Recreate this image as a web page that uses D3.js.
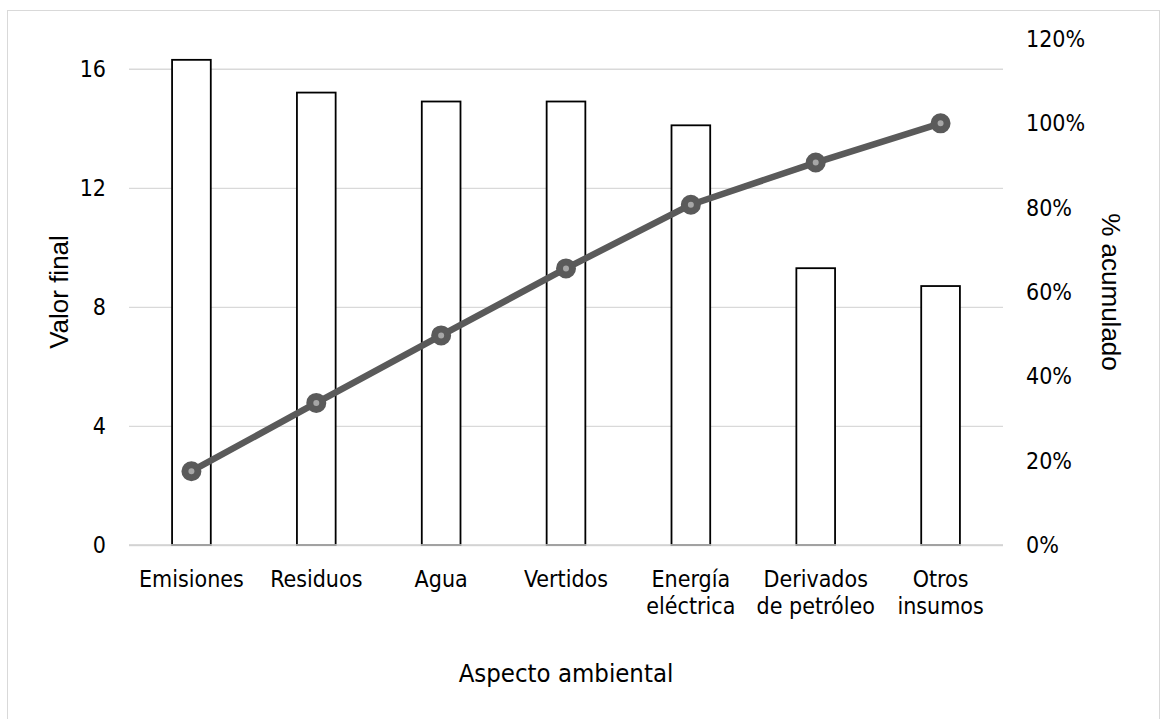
<!DOCTYPE html>
<html>
<head>
<meta charset="utf-8">
<script src="https://cdn.jsdelivr.net/npm/d3@7"></script>
<style>
  html, body { margin: 0; padding: 0; background: #fff; }
  svg { display: block; }
  .tick-label { font-family: "DejaVu Sans Condensed", "DejaVu Sans", sans-serif; font-stretch: condensed; fill: #000; }
  .axis-title { font-family: "Liberation Sans", Arial, sans-serif; fill: #000; }
</style>
</head>
<body>
<svg id="chart" width="1162" height="719"></svg>
<script>
// ---- data ----
const categories = [
  ["Emisiones"],
  ["Residuos"],
  ["Agua"],
  ["Vertidos"],
  ["Energía", "eléctrica"],
  ["Derivados", "de petróleo"],
  ["Otros", "insumos"]
];
const valorFinal = [16.3, 15.2, 14.9, 14.9, 14.1, 9.3, 8.7];
const acumulado = [0.175, 0.337, 0.497, 0.656, 0.807, 0.907, 1.0];
const leftTicks = [0, 4, 8, 12, 16];
const rightTicks = [0, 0.2, 0.4, 0.6, 0.8, 1.0, 1.2];
const xTitle = "Aspecto ambiental";
const yLeftTitle = "Valor final";
const yRightTitle = "% acumulado";

// ---- layout ----
const plot = { left: 129, right: 1003, top: 39, bottom: 545 };
const svg = d3.select("#chart");

// chart border (bottom edge falls outside the picture, as in the reference)
svg.append("rect")
  .attr("x", 7.5).attr("y", 10.5)
  .attr("width", 1152).attr("height", 720)
  .attr("fill", "#fff").attr("stroke", "#d9d9d9").attr("stroke-width", 1);

const keys = categories.map(c => c.join(" "));
const x = d3.scaleBand().domain(keys).range([plot.left, plot.right]).paddingInner(0).paddingOuter(0);
const yL = d3.scaleLinear().domain([0, 17]).range([plot.bottom, plot.top]);
const yR = d3.scaleLinear().domain([0, 1.2]).range([plot.bottom, plot.top]);

// gridlines (left axis)
const yAxisGrid = d3.axisLeft(yL).tickValues(leftTicks).tickSize(-(plot.right - plot.left)).tickFormat("");
const grid = svg.append("g").attr("transform", `translate(${plot.left},0)`).call(yAxisGrid);
grid.select(".domain").remove();
grid.selectAll(".tick line").attr("stroke", "#d9d9d9").attr("stroke-width", 1.3);

// bars
const barW = x.bandwidth() * 0.31;
svg.append("g").selectAll("rect")
  .data(valorFinal)
  .join("rect")
  .attr("x", (d, i) => x(keys[i]) + x.bandwidth() / 2 - barW / 2)
  .attr("y", d => yL(d))
  .attr("width", barW)
  .attr("height", d => yL(0) - yL(d))
  .attr("fill", "#fff")
  .attr("stroke", "#000")
  .attr("stroke-width", 1.8);

// x axis line
svg.append("line")
  .attr("x1", plot.left).attr("x2", plot.right)
  .attr("y1", yL(0)).attr("y2", yL(0))
  .attr("stroke", "#d0d0d0").attr("stroke-width", 1.5);

// left tick labels
const leftAxis = d3.axisLeft(yL).tickValues(leftTicks).tickSize(0).tickPadding(23).tickFormat(d3.format("d"));
const gl = svg.append("g").attr("transform", `translate(${plot.left},0)`).call(leftAxis);
gl.select(".domain").remove();
gl.attr("font-family", null).attr("font-size", null);
gl.selectAll("text").attr("class", "tick-label").attr("font-size", 23).attr("fill", "#000");

// right tick labels
const rightAxis = d3.axisRight(yR).tickValues(rightTicks).tickSize(0).tickPadding(23).tickFormat(d3.format(".0%"));
const gr = svg.append("g").attr("transform", `translate(${plot.right},0)`).call(rightAxis);
gr.select(".domain").remove();
gr.attr("font-family", null).attr("font-size", null);
gr.selectAll("text").attr("class", "tick-label").attr("font-size", 23).attr("fill", "#000");

// x category labels
const xl = svg.append("g");
categories.forEach((lines, i) => {
  const cxv = x(keys[i]) + x.bandwidth() / 2;
  const t = xl.append("text")
    .attr("class", "tick-label")
    .attr("font-size", 23)
    .attr("text-anchor", "middle")
    .attr("x", cxv)
    .attr("y", 587);
  lines.forEach((ln, j) => {
    t.append("tspan").attr("x", cxv).attr("dy", j === 0 ? 0 : 27).text(ln);
  });
});

// line + markers
const cx = (d, i) => x(keys[i]) + x.bandwidth() / 2;
const line = d3.line().x(cx).y(d => yR(d));
svg.append("path")
  .datum(acumulado)
  .attr("d", line)
  .attr("fill", "none")
  .attr("stroke", "#5a5a5a")
  .attr("stroke-width", 6.5)
  .attr("stroke-linejoin", "round");
svg.append("g").selectAll("circle")
  .data(acumulado)
  .join("circle")
  .attr("cx", cx)
  .attr("cy", d => yR(d))
  .attr("r", 6.5)
  .attr("fill", "#a6a6a6")
  .attr("stroke", "#5a5a5a")
  .attr("stroke-width", 7);

// axis titles
svg.append("text")
  .attr("class", "tick-label")
  .attr("font-size", 25.5)
  .attr("text-anchor", "middle")
  .attr("x", (plot.left + plot.right) / 2)
  .attr("y", 682)
  .text(xTitle);

svg.append("text")
  .attr("class", "axis-title")
  .attr("font-size", 26)
  .attr("text-anchor", "middle")
  .attr("transform", `translate(68,${(plot.top + plot.bottom) / 2}) rotate(-90)`)
  .text(yLeftTitle);

svg.append("text")
  .attr("class", "axis-title")
  .attr("font-size", 26)
  .attr("text-anchor", "middle")
  .attr("transform", `translate(1102,${(plot.top + plot.bottom) / 2}) rotate(90)`)
  .text(yRightTitle);
</script>
</body>
</html>
